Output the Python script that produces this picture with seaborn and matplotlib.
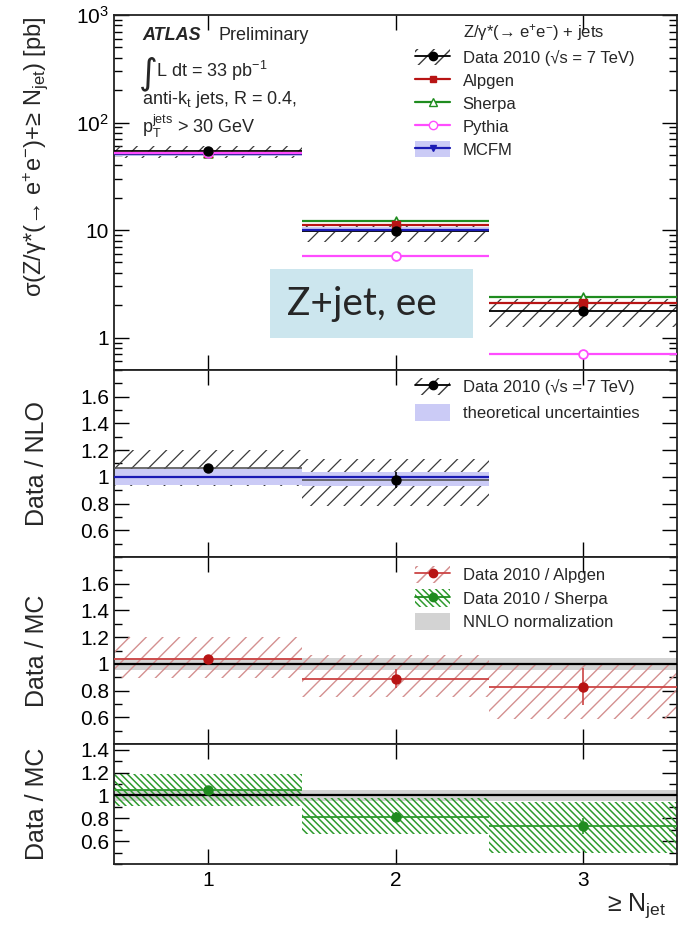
import matplotlib
matplotlib.use("Agg")
import matplotlib.pyplot as plt
import seaborn as sns
from matplotlib.patches import Patch, Rectangle
from matplotlib.lines import Line2D
from matplotlib.ticker import FixedLocator, MultipleLocator, FuncFormatter, LogLocator, NullFormatter, NullLocator

sns.set_style("ticks")
plt.rcParams['font.family'] = ['Liberation Sans', 'DejaVu Sans']
plt.rcParams['mathtext.fontset'] = 'custom'
plt.rcParams['mathtext.rm'] = 'Liberation Sans'
plt.rcParams['mathtext.it'] = 'Liberation Sans:italic'
plt.rcParams['mathtext.bf'] = 'Liberation Sans:bold'

# ---------------- values ----------------
njet = [1, 2, 3]
njet_labels = ["1", "2", "3"]

# cross sections [pb]
data_xs = [54.0, 9.9, 1.75]
data_sys_lo = [47.0, 7.7, 1.25]
data_sys_hi = [61.0, 11.4, 2.30]
data_stat = [1.2, 0.35, 0.15]
alpgen_xs = [52.0, 11.2, 2.10]
sherpa_xs = [52.5, 12.2, 2.40]
pythia_xs = [52.0, 5.7, 0.70]
mcfm_njet = [1, 2]
mcfm_xs = [51.0, 10.1]
mcfm_lo = [48.5, 9.6]
mcfm_hi = [53.5, 10.6]

# Data / NLO
nlo_ratio = [1.07, 0.98]
nlo_sys_lo = [0.93, 0.78]
nlo_sys_hi = [1.20, 1.13]
nlo_stat = [0.02, 0.06]
theory_lo = [0.94, 0.93]
theory_hi = [1.06, 1.04]

# Data / Alpgen
alpgen_ratio = [1.04, 0.89, 0.83]
alpgen_sys_lo = [0.895, 0.75, 0.59]
alpgen_sys_hi = [1.20, 1.07, 0.99]
alpgen_stat = [0.02, 0.07, 0.14]

# Data / Sherpa
sherpa_ratio = [1.05, 0.815, 0.73]
sherpa_sys_lo = [0.905, 0.66, 0.50]
sherpa_sys_hi = [1.19, 0.98, 0.94]
sherpa_stat = [0.02, 0.04, 0.07]

nnlo_norm_unc = 0.045

# ---------------- styling ----------------
C_DATA = "black"
C_HATCH = "#3a3a3a"
C_ALP = "#b81414"
C_ALP_L = "#cc4444"
C_ALP_H = "#d49090"
C_SHE = "#1f8c1f"
C_SHE_H = "#2e9a2e"
C_PYT = "#ff4cff"
C_MCFM = "#1a1ab4"
C_MCFM_B = "#cbcbf6"
C_GREY = "#d3d3d3"
HATCH_DATA = "//"
HATCH_ALP = "//"
HATCH_SHE = "\\" * 5

W, H = 679, 925
fig = plt.figure(figsize=(W / 100, H / 100), dpi=100)


def fx(px):
    return px / W


def fy(py):
    return 1 - py / H


def add_panel(top, bottom):
    return fig.add_axes([fx(114), fy(bottom), fx(677) - fx(114), fy(top) - fy(bottom)])


ax1 = add_panel(15, 370)
ax2 = add_panel(370, 557)
ax3 = add_panel(557, 744)
ax4 = add_panel(744, 864)
axes = [ax1, ax2, ax3, ax4]


def band(ax, x, lo, hi, hatch=None, color="none", hcolor="k", hlw=0.9, z=1):
    with plt.rc_context({"hatch.linewidth": hlw}):
        if hatch:
            ax.fill_between([x - 0.5, x + 0.5], lo, hi, facecolor="none",
                            edgecolor=hcolor, hatch=hatch, linewidth=0, zorder=z)
        else:
            ax.fill_between([x - 0.5, x + 0.5], lo, hi, facecolor=color,
                            edgecolor="none", linewidth=0, zorder=z)


def bin_lines(ax, xs, ys, color, lw, z):
    ax.hlines(ys, [x - 0.5 for x in xs], [x + 0.5 for x in xs], colors=color, lw=lw, zorder=z)


def points(ax, xs, ys, marker, s, face, edge, lw=1.0, z=6):
    sns.scatterplot(x=xs, y=ys, ax=ax, marker=marker, s=s, color=face,
                    edgecolor=edge, linewidth=lw, zorder=z, legend=False)


# ---------------- top panel: cross sections ----------------
for i, n in enumerate(njet):
    band(ax1, n, data_sys_lo[i], data_sys_hi[i], hatch=HATCH_DATA, hcolor=C_HATCH, z=1)
for i, n in enumerate(mcfm_njet):
    band(ax1, n, mcfm_lo[i], mcfm_hi[i], color=C_MCFM_B, z=2)

bin_lines(ax1, njet, data_xs, C_DATA, 1.3, 3)
bin_lines(ax1, mcfm_njet, mcfm_xs, C_MCFM, 1.6, 4)
bin_lines(ax1, njet, sherpa_xs, C_SHE, 1.6, 4)
bin_lines(ax1, njet, alpgen_xs, C_ALP, 1.6, 4)
bin_lines(ax1, njet, pythia_xs, C_PYT, 1.6, 4)

ax1.errorbar(njet, data_xs, yerr=data_stat, fmt="none", ecolor=C_DATA, elinewidth=1.3, zorder=5)
points(ax1, mcfm_njet, mcfm_xs, "v", 28, C_MCFM, C_MCFM)
points(ax1, njet, sherpa_xs, "^", 40, "white", C_SHE, 1.2)
points(ax1, njet, alpgen_xs, "s", 26, C_ALP, C_ALP)
points(ax1, njet, pythia_xs, "o", 40, "white", C_PYT, 1.3)
points(ax1, njet, data_xs, "o", 42, C_DATA, C_DATA, z=7)

ax1.set_yscale("log")
ax1.set_ylim(0.5, 1000)
ax1.yaxis.set_major_locator(FixedLocator([1, 10, 100, 1000]))
ax1.yaxis.set_minor_locator(LogLocator(base=10, subs=range(2, 10)))
ax1.yaxis.set_minor_formatter(NullFormatter())
tick_txt = {1: "1", 10: "10", 100: "$10^{2}$", 1000: "$10^{3}$"}
ax1.yaxis.set_major_formatter(FuncFormatter(lambda v, _: tick_txt.get(int(round(v)), "")))

# top-left annotations
fig.text(fx(142), fy(36), "ATLAS", fontsize=13, fontweight="bold", fontstyle="italic", va="center")
fig.text(fx(218), fy(36), "Preliminary", fontsize=13, va="center")
fig.text(fx(139), fy(74), "∫", fontsize=26, va="center", family="DejaVu Sans")
fig.text(fx(156), fy(71), "L dt = 33 pb$^{-1}$", fontsize=13, va="center")
fig.text(fx(142), fy(100), "anti-k$_{\\rm t}$ jets, R = 0.4,", fontsize=13, va="center")
fig.text(fx(142), fy(126), "p$_{\\rm T}^{\\rm jets}$ > 30 GeV", fontsize=13, va="center")

# legend
h_header = Line2D([], [], linestyle="none")
h_data = (Patch(facecolor="none", edgecolor=C_HATCH, hatch=HATCH_DATA, linewidth=0),
          Line2D([], [], color=C_DATA, marker="o", ms=6, lw=1.3))
h_alp = Line2D([], [], color=C_ALP, marker="s", ms=5, lw=1.6)
h_she = Line2D([], [], color=C_SHE, marker="^", ms=6, mfc="white", lw=1.6)
h_pyt = Line2D([], [], color=C_PYT, marker="o", ms=6, mfc="white", lw=1.6)
h_mcfm = (Patch(facecolor=C_MCFM_B, edgecolor="none"),
          Line2D([], [], color=C_MCFM, marker="v", ms=5, lw=1.6))
ax1.legend([h_header, h_data, h_alp, h_she, h_pyt, h_mcfm],
           ["Z/γ*(→ e$^{+}$e$^{-}$) + jets", "Data 2010 (√s = 7 TeV)", "Alpgen",
            "Sherpa", "Pythia", "MCFM"],
           loc="upper left", bbox_to_anchor=(fx(415), fy(22)), bbox_transform=fig.transFigure,
           frameon=False, fontsize=12, handlelength=2.1, handletextpad=0.75,
           labelspacing=0.38, borderpad=0, borderaxespad=0, handleheight=1.1)

# labelled box
fig.patches.append(Rectangle((fx(270), fy(338)), fx(473) - fx(270), fy(269) - fy(338),
                             transform=fig.transFigure, facecolor="#cce6ee",
                             edgecolor="none", zorder=10))
fig.text(fx(287), fy(304), "Z+jet, ee", fontsize=28, family="Lato", va="center",
         ha="left", zorder=11)

# ---------------- Data / NLO ----------------
for i, n in enumerate(mcfm_njet):
    band(ax2, n, nlo_sys_lo[i], nlo_sys_hi[i], hatch=HATCH_DATA, hcolor=C_HATCH, z=1)
    band(ax2, n, theory_lo[i], theory_hi[i], color=C_MCFM_B, z=2)
ax2.hlines(1.0, 0.5, 2.5, colors=C_MCFM, lw=1.6, zorder=3)
bin_lines(ax2, mcfm_njet, nlo_ratio, "#555555", 1.2, 4)
ax2.errorbar(mcfm_njet, nlo_ratio, yerr=nlo_stat, fmt="none", ecolor=C_DATA, elinewidth=1.2, zorder=5)
points(ax2, mcfm_njet, nlo_ratio, "o", 42, C_DATA, C_DATA)

h_theo = Patch(facecolor=C_MCFM_B, edgecolor="none")
ax2.legend([h_data, h_theo], ["Data 2010 (√s = 7 TeV)", "theoretical uncertainties"],
           loc="upper left", bbox_to_anchor=(fx(415), fy(378)), bbox_transform=fig.transFigure,
           frameon=False, fontsize=12, handlelength=2.1, handletextpad=0.75,
           labelspacing=0.5, borderpad=0, borderaxespad=0, handleheight=1.2)

# ---------------- Data / Alpgen ----------------
for ax in (ax3, ax4):
    ax.axhspan(1 - nnlo_norm_unc, 1 + nnlo_norm_unc, facecolor=C_GREY, edgecolor="none", zorder=1)
for i, n in enumerate(njet):
    band(ax3, n, alpgen_sys_lo[i], alpgen_sys_hi[i], hatch=HATCH_ALP, hcolor=C_ALP_H, hlw=1.0, z=2)
ax3.axhline(1.0, color="black", lw=1.6, zorder=3)
bin_lines(ax3, njet, alpgen_ratio, C_ALP_L, 1.3, 4)
ax3.errorbar(njet, alpgen_ratio, yerr=alpgen_stat, fmt="none", ecolor=C_ALP_L, elinewidth=1.2, zorder=5)
points(ax3, njet, alpgen_ratio, "o", 42, C_ALP, C_ALP)

h_ra = (Patch(facecolor="none", edgecolor=C_ALP_H, hatch=HATCH_ALP, linewidth=0),
        Line2D([], [], color=C_ALP_L, marker="o", mfc=C_ALP, mec=C_ALP, ms=6, lw=1.3))
h_rs = (Patch(facecolor="none", edgecolor=C_SHE_H, hatch=HATCH_SHE, linewidth=0),
        Line2D([], [], color=C_SHE, marker="o", ms=6, lw=1.3))
h_nn = Patch(facecolor=C_GREY, edgecolor="none")
with plt.rc_context({"hatch.linewidth": 1.1}):
    ax3.legend([h_ra, h_rs, h_nn], ["Data 2010 / Alpgen", "Data 2010 / Sherpa", "NNLO normalization"],
               loc="upper left", bbox_to_anchor=(fx(415), fy(566)), bbox_transform=fig.transFigure,
               frameon=False, fontsize=12, handlelength=2.1, handletextpad=0.75,
               labelspacing=0.38, borderpad=0, borderaxespad=0, handleheight=1.2)

# ---------------- Data / Sherpa ----------------
for i, n in enumerate(njet):
    band(ax4, n, sherpa_sys_lo[i], sherpa_sys_hi[i], hatch=HATCH_SHE, hcolor=C_SHE_H, hlw=1.1, z=2)
ax4.axhline(1.0, color="black", lw=1.6, zorder=3)
bin_lines(ax4, njet, sherpa_ratio, C_SHE_H, 1.3, 4)
ax4.errorbar(njet, sherpa_ratio, yerr=sherpa_stat, fmt="none", ecolor=C_SHE_H, elinewidth=1.2, zorder=5)
points(ax4, njet, sherpa_ratio, "o", 42, C_SHE, C_SHE)

# ---------------- axes cosmetics ----------------
ratio_fmt = FuncFormatter(lambda v, _: f"{v:g}")
for ax, lims in ((ax2, (0.4, 1.8)), (ax3, (0.4, 1.8)), (ax4, (0.4, 1.45))):
    ax.set_ylim(*lims)
    ax.yaxis.set_major_locator(FixedLocator([0.6, 0.8, 1.0, 1.2, 1.4, 1.6]))
    ax.yaxis.set_minor_locator(MultipleLocator(0.1))
    ax.yaxis.set_major_formatter(ratio_fmt)

for ax in axes:
    ax.set_xlim(0.5, 3.5)
    ax.xaxis.set_major_locator(FixedLocator(njet))
    ax.xaxis.set_minor_locator(NullLocator())
    ax.tick_params(which="both", direction="in", top=True, right=True, labelsize=15,
                   colors="black", width=1.0)
    ax.tick_params(which="major", length=11)
    ax.tick_params(which="minor", length=6)
    for sp in ax.spines.values():
        sp.set_color("#222222")
        sp.set_linewidth(1.3)
    if ax is not ax4:
        ax.tick_params(axis="x", labelbottom=False)
ax4.set_xticks(njet, njet_labels)
ax4.tick_params(axis="x", pad=5)

# axis titles
fig.text(fx(36), fy(16), "σ(Z/γ*(→ e$^{+}$e$^{-}$)+≥ N$_{\\rm jet}$) [pb]", rotation=90,
         va="top", ha="center", fontsize=17)
fig.text(fx(37), fy(463), "Data / NLO", rotation=90, va="center", ha="center", fontsize=18)
fig.text(fx(37), fy(651), "Data / MC", rotation=90, va="center", ha="center", fontsize=18)
fig.text(fx(37), fy(804), "Data / MC", rotation=90, va="center", ha="center", fontsize=18)
fig.text(fx(666), fy(906), "≥ N$_{\\rm jet}$", ha="right", va="center", fontsize=18)

fig.savefig("out.png", dpi=100)
